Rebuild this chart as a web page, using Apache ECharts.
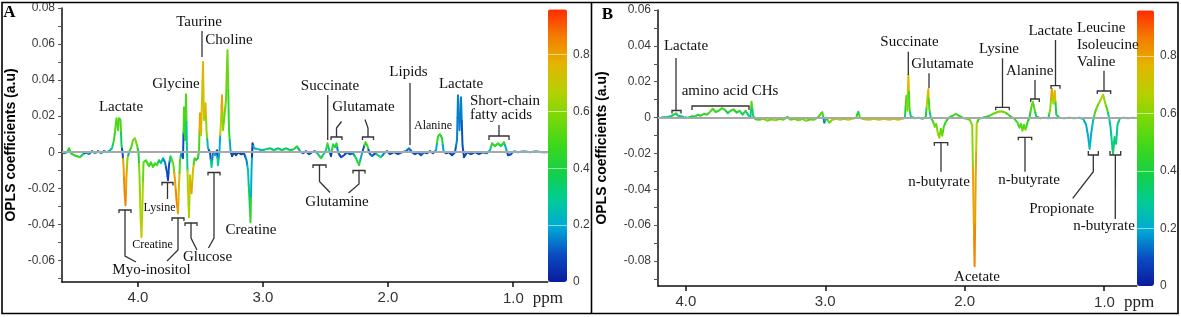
<!DOCTYPE html>
<html>
<head>
<meta charset="utf-8">
<title>OPLS coefficient plots</title>
<script src="https://cdn.jsdelivr.net/npm/echarts@6.0.0/dist/echarts.min.js"></script>
<style>
  html, body { margin: 0; padding: 0; background: #fff; }
  #main { width: 1181px; height: 317px; }
</style>
</head>
<body>
<div id="main"></div>
<script>
// 面板A：化学位移(ppm)、OPLS系数、相关系数|r|
const ppmA = [4.592,4.568,4.552,4.536,4.512,4.488,4.464,4.44,4.416,4.392,4.368,4.344,4.32,4.296,4.272,4.248,4.224,4.208,4.192,4.18,4.172,4.16,4.152,4.14,4.132,4.124,4.116,4.108,4.1,4.092,4.084,4.072,4.056,4.04,4.024,4.008,3.996,3.988,3.98,3.972,3.964,3.956,3.936,3.912,3.896,3.88,3.864,3.848,3.832,3.816,3.8,3.784,3.768,3.76,3.752,3.74,3.728,3.716,3.704,3.692,3.68,3.672,3.664,3.652,3.64,3.632,3.624,3.616,3.608,3.6,3.592,3.584,3.572,3.56,3.548,3.536,3.52,3.512,3.504,3.496,3.488,3.48,3.472,3.46,3.452,3.44,3.424,3.412,3.4,3.384,3.368,3.36,3.348,3.336,3.328,3.32,3.308,3.296,3.284,3.272,3.26,3.248,3.232,3.216,3.2,3.176,3.152,3.132,3.12,3.108,3.1,3.092,3.084,3.072,3.04,3.008,2.976,2.944,2.912,2.88,2.848,2.816,2.784,2.752,2.728,2.704,2.68,2.656,2.632,2.608,2.584,2.56,2.536,2.516,2.496,2.484,2.472,2.456,2.44,2.424,2.412,2.4,2.376,2.352,2.328,2.304,2.28,2.256,2.232,2.212,2.196,2.18,2.164,2.148,2.128,2.104,2.08,2.056,2.032,2.008,1.984,1.952,1.92,1.888,1.856,1.832,1.808,1.784,1.76,1.736,1.712,1.688,1.664,1.64,1.616,1.6,1.584,1.568,1.556,1.536,1.512,1.488,1.464,1.448,1.44,1.428,1.416,1.404,1.392,1.368,1.336,1.304,1.272,1.24,1.208,1.184,1.168,1.144,1.12,1.096,1.072,1.056,1.04,1.016,0.992,0.96,0.912,0.864,0.816,0.768,0.728];
const coefA = [-0.0006,0,0.0022,-0.0006,-0.0017,-0.0022,-0.0028,-0.0011,0,-0.0011,0.0006,-0.0006,0.0006,-0.0006,0.0006,0,0.0011,0.0022,0.0067,0.0139,0.0189,0.0122,0.0189,0.0178,0.0039,0,-0.0072,-0.0211,-0.0294,-0.0128,-0.0033,0,0.0022,0.0067,0.0078,0.0039,0,-0.0128,-0.035,-0.0472,-0.0266,-0.0056,-0.0044,-0.0078,-0.0056,-0.0083,-0.0061,-0.0072,-0.0044,-0.0061,-0.0033,-0.0056,-0.0111,-0.0155,-0.0072,-0.0022,-0.0044,-0.0072,-0.0155,-0.0266,-0.0339,-0.0183,-0.0044,0,-0.0033,0.025,0.0067,0.0322,0.0011,-0.0211,-0.0361,-0.0128,-0.0228,-0.01,-0.0033,-0.0044,-0.0033,0.0011,0.0216,0.0094,0.0289,0.05,0.0178,0.0272,0.0122,0.0022,0,-0.0083,0,-0.0017,0.0011,-0.0072,0.0011,0.0178,0.0316,0.0122,0.0205,0.0289,0.0566,0.0122,0.0011,-0.0022,0,-0.0017,0,-0.0011,-0.0006,-0.0044,-0.01,-0.0266,-0.0389,-0.01,0.005,0.0022,0.0017,0.0011,0.0017,0.0022,0.0011,0.0022,0.0011,0.0022,0.0011,0.0017,0.0033,0.0006,-0.0006,0.0006,-0.0011,0,0.0006,-0.0011,-0.0033,-0.0011,0.0011,0.005,0.0017,-0.0022,0.0044,0.0028,0.005,0,-0.0028,-0.0017,0,-0.0011,-0.0006,-0.0033,-0.0072,-0.0017,0.0022,0.0056,0.0033,-0.0006,-0.0022,-0.0006,-0.0017,-0.0028,-0.0006,0.0006,-0.0011,0,-0.0011,0,0.0006,0.0022,0,-0.0011,0,-0.0017,0,-0.0006,0.0006,-0.0006,0.0011,0.0089,0.01,0.0078,0.0006,-0.0006,0,-0.0017,0,0.0067,0.0316,0.0122,0.0305,0.0039,-0.0028,0,-0.0011,0,-0.0011,0,-0.0006,0.0011,0.005,0.0033,0.005,0.0033,0.0056,0.0022,-0.0017,-0.0011,0.0006,0,0.0006,0,0.0006,0,0];
const corrA = [0.15,0.3,0.45,0.35,0.45,0.45,0.5,0.3,0.1,0.2,0.1,0.3,0.1,0.2,0.1,0.3,0.2,0.3,0.45,0.5,0.5,0.5,0.5,0.5,0.35,0.1,0.8,0.85,0.85,0.8,0.6,0.2,0.5,0.55,0.6,0.55,0.4,0.6,0.65,0.7,0.65,0.55,0.5,0.5,0.45,0.5,0.45,0.5,0.4,0.3,0.2,0.15,0.1,0.08,0.1,0.3,0.5,0.55,0.8,0.85,0.8,0.75,0.5,0.2,0.1,0.5,0.45,0.5,0.3,0.65,0.65,0.7,0.8,0.75,0.5,0.45,0.4,0.5,0.8,0.75,0.75,0.75,0.7,0.75,0.6,0.25,0.1,0.3,0.15,0.2,0.1,0.3,0.2,0.7,0.8,0.6,0.55,0.55,0.55,0.45,0.2,0.08,0.1,0.08,0.1,0.08,0.1,0.15,0.25,0.35,0.45,0.2,0.05,0.2,0.25,0.25,0.3,0.35,0.3,0.35,0.3,0.4,0.35,0.35,0.45,0.2,0.1,0.1,0.1,0.1,0.1,0.3,0.45,0.3,0.35,0.5,0.3,0.08,0.45,0.4,0.45,0.15,0.08,0.1,0.1,0.1,0.15,0.35,0.45,0.2,0.1,0.5,0.45,0.1,0.15,0.1,0.3,0.35,0.15,0.1,0.1,0.1,0.1,0.1,0.1,0.15,0.1,0.1,0.1,0.1,0.15,0.1,0.1,0.1,0.2,0.45,0.5,0.4,0.2,0.1,0.1,0.08,0.1,0.15,0.15,0.15,0.15,0.1,0.08,0.1,0.1,0.1,0.1,0.1,0.15,0.25,0.45,0.45,0.45,0.4,0.45,0.2,0.08,0.1,0.2,0.2,0.2,0.2,0.2,0.2,0.2];

// 面板B
const ppmB = [4.171,4.136,4.107,4.086,4.071,4.057,4.036,4.014,3.986,3.957,3.936,3.914,3.893,3.871,3.85,3.829,3.807,3.786,3.764,3.743,3.721,3.7,3.679,3.657,3.636,3.614,3.593,3.571,3.55,3.536,3.529,3.518,3.5,3.471,3.443,3.414,3.386,3.357,3.329,3.3,3.271,3.25,3.221,3.193,3.164,3.136,3.107,3.079,3.05,3.032,3.021,3.007,2.993,2.971,2.95,2.921,2.893,2.864,2.836,2.807,2.779,2.764,2.75,2.721,2.686,2.65,2.614,2.579,2.543,2.507,2.479,2.45,2.429,2.418,2.411,2.404,2.396,2.386,2.357,2.329,2.3,2.279,2.268,2.261,2.254,2.243,2.229,2.214,2.204,2.193,2.182,2.171,2.161,2.15,2.136,2.114,2.086,2.064,2.043,2.014,1.986,1.964,1.946,1.936,1.929,1.921,1.914,1.9,1.871,1.843,1.814,1.786,1.757,1.736,1.714,1.686,1.664,1.643,1.621,1.607,1.596,1.586,1.575,1.564,1.55,1.536,1.521,1.511,1.5,1.486,1.457,1.429,1.4,1.386,1.375,1.364,1.354,1.343,1.321,1.286,1.25,1.214,1.179,1.15,1.129,1.114,1.104,1.093,1.079,1.064,1.05,1.036,1.021,1.007,0.993,0.979,0.964,0.954,0.943,0.936,0.925,0.914,0.904,0.886,0.857,0.829,0.793];
const coefB = [0.0002,0.0002,0.0007,0.0016,0.0024,0.001,0.0007,0.0002,-0.0001,0.0007,0.0004,0.0016,0.001,0.0021,0.0016,0.003,0.0049,0.003,0.0038,0.0052,0.0044,0.0024,0.0038,0.0046,0.0027,0.0038,0.0016,0.0038,0.001,0.0004,0.0088,0.001,-0.001,-0.0012,-0.0007,-0.0018,-0.001,-0.0015,-0.0007,-0.0012,0.0004,-0.0012,-0.0007,-0.0015,-0.0007,-0.0018,-0.001,-0.0012,0.0004,0.0021,0.003,-0.0029,-0.0001,-0.0029,-0.0012,-0.0007,-0.0012,-0.0007,-0.0012,-0.0007,-0.0001,0.0032,-0.0001,-0.001,-0.0012,-0.0007,-0.0012,-0.0007,-0.0012,-0.0007,-0.0012,-0.0007,-0.0001,0.0122,0.0038,0.024,0.0049,0.0004,-0.0004,-0.0001,-0.0007,0.0004,0.0105,0.0158,0.0049,-0.0001,-0.0018,-0.0052,-0.0035,-0.0085,-0.0113,-0.0063,-0.0102,-0.0052,-0.0024,-0.0001,0.001,0.0021,0.001,-0.0001,-0.0007,-0.0012,-0.0043,-0.0511,-0.083,-0.0343,-0.0035,-0.0007,-0.0001,0.0004,0.0013,0.0024,0.0032,0.0035,0.003,0.0016,0.0002,-0.0007,-0.0029,-0.0057,-0.0035,-0.0074,-0.004,-0.0068,-0.0029,-0.0001,0.006,0.0088,0.0049,0.0004,-0.0004,-0.0001,-0.0004,0.0049,0.0161,0.0077,0.015,0.0016,-0.0001,-0.0004,-0.0001,-0.0004,-0.0001,-0.0007,-0.004,-0.0108,-0.0175,-0.0091,-0.0018,0.0032,0.006,0.0083,0.0105,0.0128,0.0083,0.0049,-0.0001,-0.0052,-0.0147,-0.0203,-0.0108,-0.0147,-0.004,-0.0004,-0.0001,-0.0004,-0.0001];
const corrB = [0.25,0.25,0.3,0.4,0.45,0.35,0.3,0.25,0.3,0.4,0.35,0.45,0.4,0.5,0.45,0.5,0.5,0.45,0.45,0.5,0.45,0.35,0.45,0.5,0.4,0.45,0.35,0.45,0.3,0.3,0.5,0.35,0.45,0.5,0.55,0.6,0.55,0.65,0.5,0.55,0.45,0.55,0.5,0.6,0.55,0.6,0.5,0.55,0.5,0.5,0.5,0.15,0.35,0.55,0.6,0.65,0.7,0.6,0.7,0.65,0.5,0.4,0.5,0.65,0.7,0.65,0.7,0.7,0.75,0.7,0.75,0.65,0.4,0.5,0.6,0.75,0.5,0.3,0.3,0.35,0.3,0.4,0.65,0.75,0.5,0.3,0.45,0.55,0.55,0.6,0.6,0.55,0.55,0.5,0.45,0.4,0.45,0.5,0.45,0.4,0.5,0.55,0.6,0.8,0.85,0.8,0.65,0.45,0.35,0.4,0.5,0.55,0.6,0.6,0.55,0.5,0.4,0.45,0.5,0.5,0.5,0.55,0.5,0.55,0.45,0.4,0.5,0.55,0.5,0.35,0.3,0.35,0.3,0.6,0.8,0.65,0.75,0.4,0.3,0.3,0.35,0.3,0.3,0.25,0.2,0.2,0.25,0.2,0.25,0.5,0.55,0.6,0.65,0.7,0.6,0.5,0.3,0.25,0.3,0.35,0.3,0.35,0.3,0.35,0.4,0.4,0.4];

// 坐标刻度
const xTicks = [4, 3, 2, 1];
const yTicksA = [-0.07,-0.06,-0.05,-0.04,-0.03,-0.02,-0.01,0,0.01,0.02,0.03,0.04,0.05,0.06,0.07,0.08];
const yLabelsA = [-0.06,-0.04,-0.02,0,0.02,0.04,0.06,0.08];
const yTicksB = [-0.09,-0.08,-0.07,-0.06,-0.05,-0.04,-0.03,-0.02,-0.01,0,0.01,0.02,0.03,0.04,0.05,0.06];
const yLabelsB = [-0.08,-0.06,-0.04,-0.02,0,0.02,0.04,0.06];
const barLabels = [0, 0.2, 0.4, 0.6, 0.8];

// 颜色条（|r|）
const barColors = ['#0a1a9e','#0a4cc2','#00a8d6','#00cc98','#14d048','#3cd81c','#78d808','#b8d000','#e4b400','#f47c00','#ff2a00'];

function zip(xs, ys, rs) {
  let n = Math.min(xs.length, ys.length, rs.length);
  let out = [];
  for (let i = 0; i < n; i++) out.push([xs[i], ys[i], rs[i]]);
  return out;
}

// 每个点画一小段折线（前后中点之间），颜色取该点的 visualMap 颜色
function segmentRenderer(data) {
  return function (params, api) {
    let i = params.dataIndex;
    let cur = api.coord([data[i][0], data[i][1]]);
    let prev = i > 0 ? api.coord([data[i - 1][0], data[i - 1][1]]) : cur;
    let next = i < data.length - 1 ? api.coord([data[i + 1][0], data[i + 1][1]]) : cur;
    return {
      type: 'polyline',
      shape: { points: [
        [(prev[0] + cur[0]) / 2, (prev[1] + cur[1]) / 2],
        cur,
        [(next[0] + cur[0]) / 2, (next[1] + cur[1]) / 2]
      ] },
      style: { stroke: api.visual('color'), lineWidth: 2, fill: 'none', lineJoin: 'round', lineCap: 'round' }
    };
  };
}

let dataA = zip(ppmA, coefA, corrA);
let dataB = zip(ppmB, coefB, corrB);

const axisFont = 'Liberation Sans';
const serif = 'Liberation Serif';

function xAxisOf(gridIndex, min, max) {
  return {
    type: 'value', gridIndex: gridIndex, inverse: true, min: min, max: max,
    axisLine: { onZero: false, lineStyle: { color: '#111', width: 1.5 } },
    axisTick: { customValues: xTicks, length: 5, lineStyle: { color: '#111', width: 1.5 } },
    axisLabel: {
      customValues: xTicks, margin: 8, color: '#333', fontSize: 15, fontFamily: axisFont,
      formatter: function (v) { return v === 1 ? '{sp| }{n|1.0}{p|ppm}' : v.toFixed(1); },
      rich: {
        sp: { width: 40 },
        n: { fontSize: 15, fontFamily: axisFont, color: '#333' },
        p: { fontSize: 17, fontFamily: serif, color: '#222', padding: [0, 0, 0, 9] }
      }
    },
    splitLine: { show: false }
  };
}

function yAxisOf(gridIndex, min, max, ticks, labels, gap) {
  return {
    type: 'value', gridIndex: gridIndex, min: min, max: max,
    name: 'OPLS coefficients (a.u)', nameLocation: 'middle', nameGap: gap,
    nameTextStyle: { fontSize: 14, fontWeight: 'bold', fontFamily: axisFont, color: '#000' },
    axisLine: { show: true, lineStyle: { color: '#111', width: 1.5 } },
    axisTick: { customValues: ticks, length: 4, lineStyle: { color: '#555' } },
    axisLabel: {
      customValues: labels, margin: 7, color: '#3a3a3a', fontSize: 12, fontFamily: axisFont,
      formatter: function (v) { return v === 0 ? '0' : v.toFixed(2); }
    },
    splitLine: { show: false }
  };
}

function barAxisOf(gridIndex) {
  return {
    type: 'value', gridIndex: gridIndex, position: 'right', min: 0, max: 0.96, interval: 0.2, z: 10,
    axisLine: { show: false }, axisTick: { show: false },
    axisLabel: { customValues: barLabels, margin: 6, color: '#3a3a3a', fontSize: 12, fontFamily: axisFont,
      formatter: function (v) { return v === 0 ? '0' : v.toFixed(1); } },
    splitLine: { show: true, lineStyle: { color: 'rgba(255,255,255,0.55)', width: 1 } }
  };
}

function zeroLine(xi, yi) {
  return {
    type: 'line', xAxisIndex: xi, yAxisIndex: yi, data: [], z: 1, silent: true,
    markLine: { silent: true, symbol: 'none', label: { show: false },
      lineStyle: { color: '#a8a8a8', width: 2, type: 'solid' }, data: [{ yAxis: 0 }] }
  };
}

// 注释文字与括号
function txt(x, y, s, size, align) {
  return { type: 'text', x: x, y: y, z: 100, style: { text: s, fontSize: size || 15, fontFamily: serif,
    fill: '#111', align: align || 'center', verticalAlign: 'middle' } };
}
function poly(points) {
  return { type: 'polyline', z: 100, shape: { points: points }, style: { stroke: '#333', lineWidth: 1.3, fill: 'none' } };
}
function bracket(x1, x2, y, tick, stem) {
  let out = [poly([[x1, y + tick], [x1, y], [x2, y], [x2, y + tick]])];
  if (stem) out.push(poly([[(x1 + x2) / 2, y]].concat(stem)));
  return out;
}

let notes = [].concat(
  // A
  txt(121, 107, 'Lactate'), txt(176, 84, 'Glycine'), txt(199, 22, 'Taurine'), txt(229, 40, 'Choline'),
  poly([[202, 31], [202, 57]]),
  bracket(119, 131, 210, 3, [[125, 256], [136, 262]]),
  bracket(172, 184, 218, 3, [[178, 250], [167, 261]]),
  txt(151.5, 270.5, 'Myo-inositol'),
  bracket(162, 173, 182.5, 3, [[167.5, 199]]),
  txt(159.5, 207.5, 'Lysine', 12),
  txt(152.5, 245, 'Creatine', 12),
  bracket(185, 197, 223, 3, [[191, 238], [197, 250]]),
  bracket(208, 220, 172.5, 3, [[214, 238], [208.5, 248]]),
  txt(207.5, 257.5, 'Glucose'),
  txt(251, 230, 'Creatine'),
  bracket(313, 326, 165, 3, [[319.5, 181.5], [330, 192.5]]),
  bracket(353, 365, 170.5, 3, [[359, 184], [348.5, 193]]),
  txt(337, 202.5, 'Glutamine'),
  txt(330, 86, 'Succinate'), poly([[327.7, 95], [327.7, 140]]),
  txt(363.5, 107.5, 'Glutamate'),
  bracket(331, 342, 137, 3, [[336.5, 128], [341.5, 121.5]]),
  bracket(362.5, 373.5, 137, 3, [[368, 128], [365, 119.5]]),
  txt(408.5, 72.5, 'Lipids'), poly([[410, 83], [410, 145]]),
  txt(433, 126, 'Alanine', 12),
  txt(461, 84, 'Lactate'),
  txt(505, 101, 'Short-chain'), txt(501, 115, 'fatty acids'),
  bracket(489, 509, 136, 4, [[499, 125]]),
  // B
  txt(686, 46.5, 'Lactate'), poly([[676, 58], [676, 110.5]]), bracket(672, 681, 110.5, 3),
  txt(730, 91, 'amino acid CHs'), bracket(692, 749, 106, 4),
  txt(909.5, 42.5, 'Succinate'), poly([[908.3, 51.7], [908.3, 75]]),
  txt(942.5, 64, 'Glutamate'), poly([[929, 73.3], [929, 88.3]]),
  txt(999, 49, 'Lysine'), bracket(995.7, 1009.3, 107.3, 3, [[1002.5, 58.3]]),
  txt(1029.7, 71.3, 'Alanine'), bracket(1030.7, 1039.3, 99, 3, [[1035, 80]]),
  txt(1050.5, 31, 'Lactate'), bracket(1051, 1060, 85.7, 3, [[1055.5, 40]]),
  txt(1077, 28, 'Leucine', 15, 'left'), txt(1077, 45, 'Isoleucine', 15, 'left'), txt(1077, 61.7, 'Valine', 15, 'left'),
  bracket(1097.3, 1110.7, 91, 3, [[1104, 70.7]]),
  bracket(934.3, 947.7, 142.7, 3, [[941, 171.7]]), txt(939, 182, 'n-butyrate'),
  bracket(1018.3, 1031.7, 137.3, 3, [[1025, 171.7]]), txt(1029, 180, 'n-butyrate'),
  bracket(1088.3, 1098.3, 155, -4, [[1093.3, 171.7], [1072.7, 198.3]]), txt(1061.7, 209, 'Propionate'),
  bracket(1110, 1120.7, 155, -4, [[1115.3, 219]]), txt(1104, 226, 'n-butyrate'),
  txt(977, 277.5, 'Acetate'),
  // 面板字母与边框
  { type: 'text', x: 9.5, y: 13, z: 100, style: { text: 'A', fontSize: 17, fontWeight: 'bold', fontFamily: serif, fill: '#000', align: 'center', verticalAlign: 'middle' } },
  { type: 'text', x: 607.5, y: 15, z: 100, style: { text: 'B', fontSize: 17, fontWeight: 'bold', fontFamily: serif, fill: '#000', align: 'center', verticalAlign: 'middle' } },
  { type: 'rect', z: 100, shape: { x: 2, y: 2.5, width: 1176, height: 311 }, style: { fill: 'none', stroke: '#000', lineWidth: 1.6 } },
  { type: 'line', z: 100, shape: { x1: 591.5, y1: 2.5, x2: 591.5, y2: 313.5 }, style: { stroke: '#000', lineWidth: 1.6 } }
);

let myChart = echarts.init(document.getElementById('main'));
let option = {
  animation: false,
  backgroundColor: '#fff',
  grid: [
    { left: 62, top: 8, width: 486, height: 274 },
    { left: 658, top: 10, width: 479, height: 276 },
    { left: 548, top: 9, width: 19, height: 273 },
    { left: 1137, top: 10, width: 17, height: 276 }
  ],
  xAxis: [
    xAxisOf(0, 0.72, 4.608),
    xAxisOf(1, 0.764, 4.2),
    { type: 'value', gridIndex: 2, show: false, min: 0, max: 1 },
    { type: 'value', gridIndex: 3, show: false, min: 0, max: 1 }
  ],
  yAxis: [
    yAxisOf(0, -0.072, 0.08, yTicksA, yLabelsA, 44),
    yAxisOf(1, -0.094, 0.06, yTicksB, yLabelsB, 49),
    barAxisOf(2),
    barAxisOf(3)
  ],
  visualMap: [
    { type: 'continuous', seriesIndex: 1, dimension: 2, min: 0, max: 0.96, calculable: false, hoverLink: false,
      left: 548, top: 9, itemWidth: 19, itemHeight: 273, padding: 0, text: null, showLabel: false,
      inRange: { color: barColors } },
    { type: 'continuous', seriesIndex: 3, dimension: 2, min: 0, max: 0.96, calculable: false, hoverLink: false,
      left: 1137, top: 10, itemWidth: 17, itemHeight: 276, padding: 0, text: null, showLabel: false,
      inRange: { color: barColors } }
  ],
  series: [
    zeroLine(0, 0),
    { type: 'custom', xAxisIndex: 0, yAxisIndex: 0, z: 2, clip: true, data: dataA,
      dimensions: ['ppm', 'coef', 'r'], encode: { x: 0, y: 1 }, renderItem: segmentRenderer(dataA) },
    zeroLine(1, 1),
    { type: 'custom', xAxisIndex: 1, yAxisIndex: 1, z: 2, clip: true, data: dataB,
      dimensions: ['ppm', 'coef', 'r'], encode: { x: 0, y: 1 }, renderItem: segmentRenderer(dataB) }
  ],
  graphic: notes
};

myChart.setOption(option);
</script>
</body>
</html>
